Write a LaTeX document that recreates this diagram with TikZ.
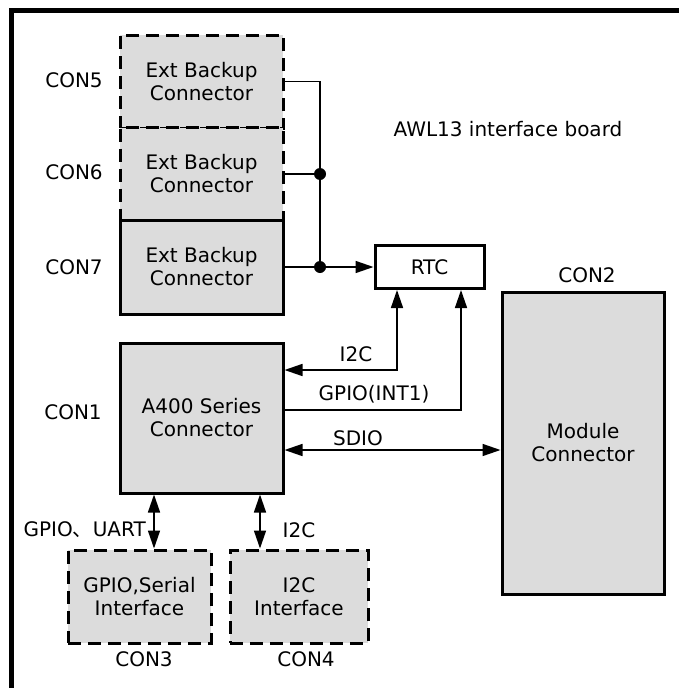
\documentclass[tikz,border=0pt]{standalone}
\usepackage{fontspec}
\setmainfont{DejaVu Sans}
\newfontfamily\cjk{Noto Sans CJK JP}
\usetikzlibrary{arrows.meta}
\definecolor{boxgray}{HTML}{DCDCDC}
\begin{document}
\begin{tikzpicture}[x=1pt,y=-1pt,
  every node/.style={font=\fontsize{20}{23}\selectfont, inner sep=0pt},
  solidbox/.style={draw=black, line width=3pt, fill=boxgray, align=center},
  dashbox/.style={solidbox, dash pattern=on 13pt off 7pt},
  conn/.style={line width=1.5pt},
  tip/.style={-{Triangle[length=18pt,width=12pt]}},
  bitip/.style={{Triangle[length=18pt,width=12pt]}-{Triangle[length=18pt,width=12pt]}},
  dot/.style={circle, fill=black, minimum size=12pt, inner sep=0pt}
]
\useasboundingbox (0,0) rectangle (679,688);
% outer frame (top and left visible)
\draw[line width=5pt] (11.5,688) -- (11.5,10.5) -- (679,10.5);

% boxes
\node[dashbox, minimum width=163pt, minimum height=93pt] (c5) at (201.5,81.5) {Ext Backup\\Connector};
\node[dashbox, minimum width=163pt, minimum height=93pt] (c6) at (201.5,174) {Ext Backup\\Connector};
\node[solidbox, minimum width=163pt, minimum height=94pt] (c7) at (201.5,267) {Ext Backup\\Connector};
\node[solidbox, fill=white, minimum width=109pt, minimum height=43pt] (rtc) at (429.5,267) {RTC};
\node[solidbox, minimum width=163pt, minimum height=150pt] (a400) at (201.5,418) {A400 Series\\Connector};
\node[solidbox, minimum width=162pt, minimum height=302pt] (mod) at (583,443) {Module\\Connector};
\node[dashbox, minimum width=143pt, minimum height=93pt] (c3) at (139.5,596.5) {GPIO,Serial\\Interface};
\node[dashbox, minimum width=138pt, minimum height=93pt] (c4) at (299,596.5) {I2C\\Interface};

% labels
\node (l5) at (74,80) {CON5};
\node (l6) at (74,172) {CON6};
\node (l7) at (74,267) {CON7};
\node (l1) at (73,412) {CON1};
\node (l2) at (587,275) {CON2};
\node (l3) at (144,659) {CON3};
\node (l4) at (306,659) {CON4};
\node (title) at (508,129) {AWL13 interface board};

% backup connector lines
\coordinate (j6) at (320,174);
\coordinate (j7) at (320,267);
\draw[conn] (c5.east) -| (j7);
\draw[conn] (c6.east) -- (j6);
\draw[conn, tip] (c7.east) -- (j7) -- (rtc.west);
\node[dot] (d6) at (j6) {};
\node[dot] (d7) at (j7) {};

% I2C to RTC
\coordinate (i2cc) at (397,370);
\draw[conn, bitip] (a400.east |- i2cc) -- (i2cc) -- (rtc.south -| i2cc);
\node (li2c) at (356,354) {I2C};

% GPIO(INT1)
\coordinate (gpc) at (461,410);
\draw[conn, tip] (a400.east |- gpc) -- (gpc) -- (rtc.south -| gpc);
\node (lgpio) at (374,394) {GPIO(INT1)};

% SDIO
\coordinate (sdc) at (400,450);
\draw[conn, bitip] (a400.east |- sdc) -- (mod.west |- sdc);
\node (lsdio) at (358,438) {SDIO};

% bottom links
\coordinate (b3) at (154,520);
\coordinate (b4) at (260,520);
\draw[conn, bitip] (a400.south -| b3) -- (c3.north -| b3);
\draw[conn, bitip] (a400.south -| b4) -- (c4.north -| b4);
\node[anchor=east] (lgu) at (146,530) {GPIO{\cjk 、}UART};
\node (li2cb) at (299,530) {I2C};
\end{tikzpicture}
\end{document}
